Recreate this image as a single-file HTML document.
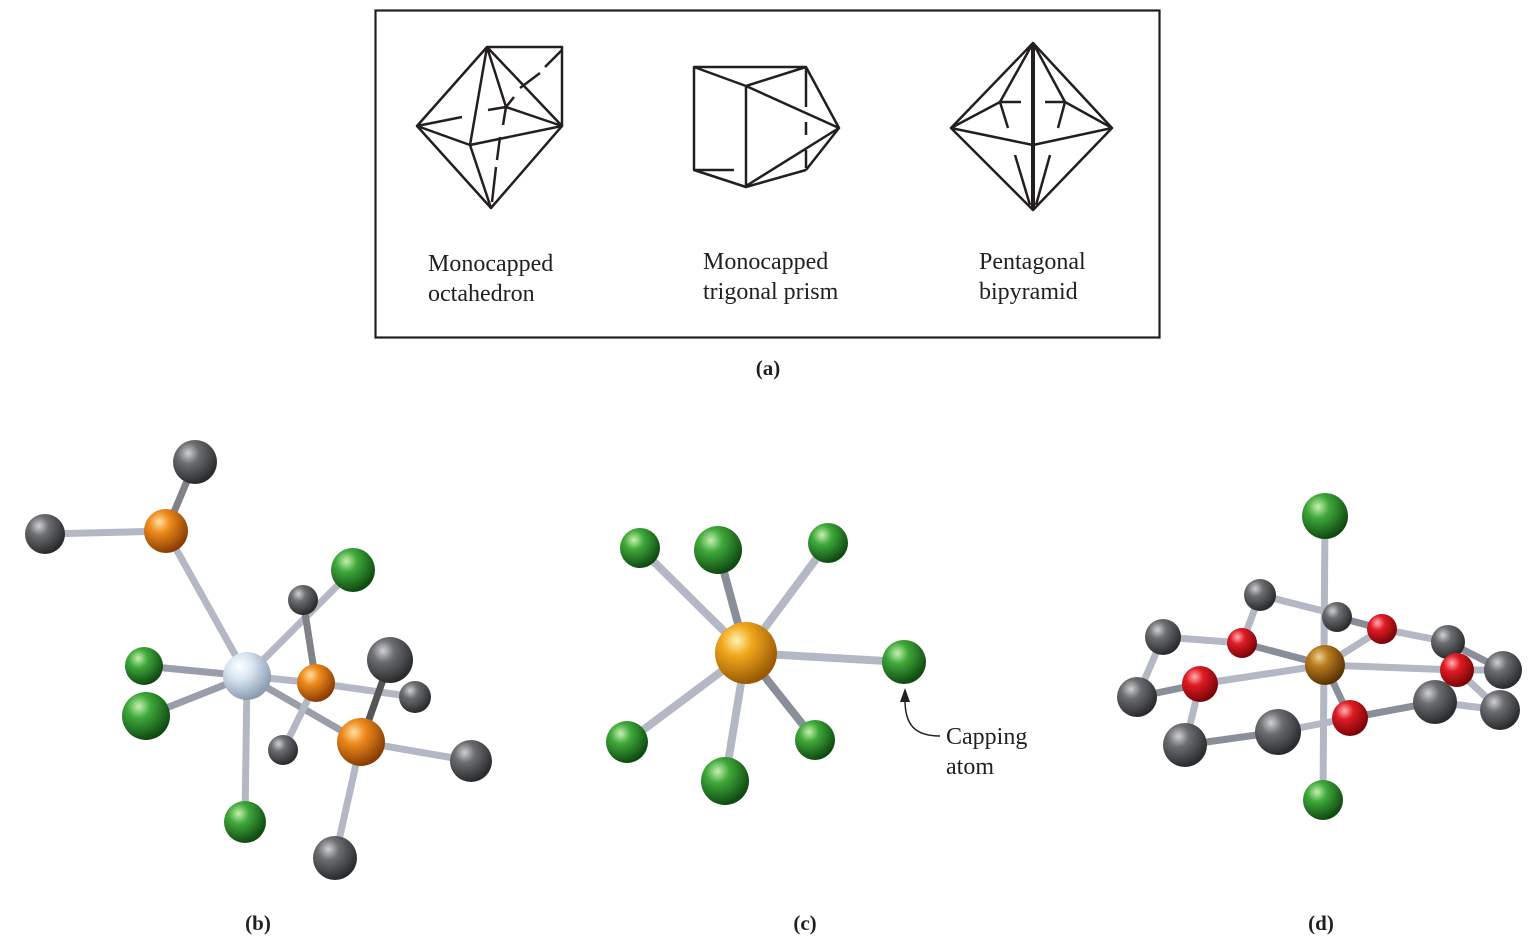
<!DOCTYPE html>
<html><head><meta charset="utf-8"><style>
html,body{margin:0;padding:0;background:#fff;}
svg{display:block;}
text{font-family:"Liberation Serif",serif;fill:#231f20;}
</style></head><body>
<svg width="1531" height="940" viewBox="0 0 1531 940" xmlns="http://www.w3.org/2000/svg">
<defs>
<radialGradient id="gG" cx="35%" cy="30%" r="70%"><stop offset="0" stop-color="#c8f0b0"/><stop offset="0.35" stop-color="#3fa93a"/><stop offset="1" stop-color="#0f4a12"/></radialGradient>
<radialGradient id="gK" cx="35%" cy="30%" r="70%"><stop offset="0" stop-color="#d0d0d0"/><stop offset="0.35" stop-color="#6b6d70"/><stop offset="1" stop-color="#2a2b2d"/></radialGradient>
<radialGradient id="gO" cx="35%" cy="30%" r="70%"><stop offset="0" stop-color="#ffe0a0"/><stop offset="0.35" stop-color="#ee8a1a"/><stop offset="1" stop-color="#8a3e05"/></radialGradient>
<radialGradient id="gY" cx="35%" cy="30%" r="70%"><stop offset="0" stop-color="#fff2b0"/><stop offset="0.35" stop-color="#f2a81c"/><stop offset="1" stop-color="#9a5a04"/></radialGradient>
<radialGradient id="gB" cx="35%" cy="30%" r="70%"><stop offset="0" stop-color="#ffffff"/><stop offset="0.4" stop-color="#d6e4f2"/><stop offset="1" stop-color="#8a9cb0"/></radialGradient>
<radialGradient id="gR" cx="35%" cy="30%" r="70%"><stop offset="0" stop-color="#ffb0b0"/><stop offset="0.35" stop-color="#e01b24"/><stop offset="1" stop-color="#7a0508"/></radialGradient>
<radialGradient id="gN" cx="35%" cy="30%" r="70%"><stop offset="0" stop-color="#f0d090"/><stop offset="0.35" stop-color="#b87a1e"/><stop offset="1" stop-color="#5a3406"/></radialGradient>
</defs>

<rect x="375.5" y="10.5" width="784" height="327" fill="none" stroke="#231f20" stroke-width="2.2"/>
<g stroke="#231f20" stroke-width="2.5" fill="none" stroke-linejoin="round">
<!-- monocapped octahedron -->
<path d="M487,47 L562,47 L562,126 L491,208 L417,126 Z"/>
<path d="M487,47 L470,145 L491,208 M417,126 L470,145 L562,126 M487,47 L562,126 M487,47 L506,107 L562,126"/>
<path d="M417,126 L462,117 M488,110 L506,107 L503,125 M500,137 L497,160 M496,167 L492,202 M506,107 L514,97 M520,88 L540,73 M545,67 L562,50"/>
<!-- trigonal prism -->
<path d="M694,67 L806,67 L746,86 Z M694,67 L694,170 L746,187 L806,170 M746,86 L746,187 M806,67 L839,128 L746,186 M746,86 L839,128 L806,170"/>
<path d="M694,170 L734,170 M806,67 L806,107 M806,122 L806,135 M806,150 L806,168"/>
<!-- pentagonal bipyramid -->
<path d="M1033,43 L1112,128 L1033,210 L951,128 Z M951,128 L1033,145 L1112,128 M1033,43 L1000,102 L951,128 M1033,43 L1065,102 L1112,128"/>
<path d="M1000,102 L1021,102 M1045,102 L1065,102 M1000,102 L1008,128 M1065,102 L1058,128 M1015,155 L1030,205 M1050,155 L1036,205"/>
<path d="M1033,43 L1033,210" stroke-width="4"/>
</g>
<text x="428" y="271" font-size="24">Monocapped</text>
<text x="428" y="301" font-size="24">octahedron</text>
<text x="703" y="269" font-size="24">Monocapped</text>
<text x="703" y="299" font-size="24">trigonal prism</text>
<text x="979" y="269" font-size="24">Pentagonal</text>
<text x="979" y="299" font-size="24">bipyramid</text>
<text x="768" y="375" font-size="21" font-weight="bold" text-anchor="middle">(a)</text>
<text x="258" y="930" font-size="21" font-weight="bold" text-anchor="middle">(b)</text>
<text x="805" y="930" font-size="21" font-weight="bold" text-anchor="middle">(c)</text>
<text x="1321" y="930" font-size="21" font-weight="bold" text-anchor="middle">(d)</text>
<text x="946" y="744" font-size="24">Capping</text>
<text x="946" y="774" font-size="24">atom</text>
<path d="M940,736 C915,736 905,725 905,700" fill="none" stroke="#231f20" stroke-width="1.5"/>
<path d="M905,688 L900,702 L910,702 Z" fill="#231f20"/>

<!-- (b) -->
<g stroke="#b4b8c4" stroke-width="7" stroke-linecap="round">
<line x1="247" y1="676" x2="166" y2="531"/>
<line x1="166" y1="531" x2="45" y2="534"/>
<line x1="166" y1="531" x2="195" y2="462" stroke="#808288"/>
<line x1="247" y1="676" x2="353" y2="570"/>
<line x1="247" y1="676" x2="144" y2="666" stroke="#9a9eaa"/>
<line x1="247" y1="676" x2="146" y2="716" stroke="#9a9eaa"/>
<line x1="247" y1="676" x2="245" y2="822"/>
<line x1="247" y1="676" x2="316" y2="683"/>
<line x1="247" y1="676" x2="361" y2="742" stroke="#9a9eaa"/>
<line x1="303" y1="600" x2="316" y2="683" stroke="#808288"/>
<line x1="316" y1="683" x2="415" y2="697"/>
<line x1="316" y1="683" x2="283" y2="750"/>
<line x1="361" y1="742" x2="390" y2="660" stroke="#555"/>
<line x1="361" y1="742" x2="471" y2="761"/>
<line x1="361" y1="742" x2="335" y2="858"/>
</g>
<circle cx="195" cy="462" r="22" fill="url(#gK)"/>
<circle cx="45" cy="534" r="20" fill="url(#gK)"/>
<circle cx="166" cy="531" r="22" fill="url(#gO)"/>
<circle cx="353" cy="570" r="22" fill="url(#gG)"/>
<circle cx="303" cy="600" r="15" fill="url(#gK)"/>
<circle cx="144" cy="666" r="19" fill="url(#gG)"/>
<circle cx="146" cy="716" r="24" fill="url(#gG)"/>
<circle cx="247" cy="676" r="24" fill="url(#gB)"/>
<circle cx="316" cy="683" r="19" fill="url(#gO)"/>
<circle cx="415" cy="697" r="16" fill="url(#gK)"/>
<circle cx="283" cy="750" r="15" fill="url(#gK)"/>
<circle cx="390" cy="660" r="23" fill="url(#gK)"/>
<circle cx="361" cy="742" r="24" fill="url(#gO)"/>
<circle cx="471" cy="761" r="21" fill="url(#gK)"/>
<circle cx="245" cy="822" r="21" fill="url(#gG)"/>
<circle cx="335" cy="858" r="22" fill="url(#gK)"/>

<!-- (c) -->
<g stroke="#b4b8c4" stroke-width="8" stroke-linecap="round">
<line x1="746" y1="653" x2="640" y2="548"/>
<line x1="746" y1="653" x2="718" y2="550" stroke="#8a8e98"/>
<line x1="746" y1="653" x2="828" y2="543"/>
<line x1="746" y1="653" x2="904" y2="662"/>
<line x1="746" y1="653" x2="627" y2="742"/>
<line x1="746" y1="653" x2="815" y2="740" stroke="#8a8e98"/>
<line x1="746" y1="653" x2="725" y2="781"/>
</g>
<circle cx="640" cy="548" r="20" fill="url(#gG)"/>
<circle cx="718" cy="550" r="24" fill="url(#gG)"/>
<circle cx="828" cy="543" r="20" fill="url(#gG)"/>
<circle cx="746" cy="653" r="31" fill="url(#gY)"/>
<circle cx="904" cy="662" r="22" fill="url(#gG)"/>
<circle cx="627" cy="742" r="21" fill="url(#gG)"/>
<circle cx="815" cy="740" r="20" fill="url(#gG)"/>
<circle cx="725" cy="781" r="24" fill="url(#gG)"/>

<!-- (d) -->
<g stroke="#b4b8c4" stroke-width="7" stroke-linecap="round">
<line x1="1260" y1="595" x2="1335" y2="614"/>
<line x1="1325" y1="516" x2="1323" y2="800"/>
<line x1="1260" y1="595" x2="1242" y2="643"/>
<line x1="1337" y1="617" x2="1382" y2="629" stroke="#8a8e98"/>
<line x1="1382" y1="629" x2="1448" y2="642"/>
<line x1="1448" y1="642" x2="1503" y2="670" stroke="#8a8e98"/>
<line x1="1457" y1="670" x2="1503" y2="670"/>
<line x1="1457" y1="670" x2="1500" y2="710"/>
<line x1="1435" y1="702" x2="1500" y2="710"/>
<line x1="1350" y1="718" x2="1435" y2="702" stroke="#8a8e98"/>
<line x1="1350" y1="718" x2="1278" y2="732"/>
<line x1="1278" y1="732" x2="1185" y2="745" stroke="#8a8e98"/>
<line x1="1185" y1="745" x2="1200" y2="684"/>
<line x1="1200" y1="684" x2="1137" y2="697" stroke="#8a8e98"/>
<line x1="1137" y1="697" x2="1163" y2="637"/>
<line x1="1163" y1="637" x2="1242" y2="643"/>
<line x1="1325" y1="665" x2="1242" y2="643" stroke="#8a8e98"/>
<line x1="1325" y1="665" x2="1382" y2="629"/>
<line x1="1325" y1="665" x2="1200" y2="684"/>
<line x1="1325" y1="665" x2="1457" y2="670"/>
<line x1="1325" y1="665" x2="1350" y2="718" stroke="#8a8e98"/>
</g>
<circle cx="1325" cy="516" r="23" fill="url(#gG)"/>
<circle cx="1260" cy="595" r="16" fill="url(#gK)"/>
<circle cx="1337" cy="617" r="15" fill="url(#gK)"/>
<circle cx="1163" cy="637" r="18" fill="url(#gK)"/>
<circle cx="1448" cy="642" r="17" fill="url(#gK)"/>
<circle cx="1242" cy="643" r="15" fill="url(#gR)"/>
<circle cx="1382" cy="629" r="15" fill="url(#gR)"/>
<circle cx="1325" cy="665" r="20" fill="url(#gN)"/>
<circle cx="1503" cy="670" r="19" fill="url(#gK)"/>
<circle cx="1137" cy="697" r="20" fill="url(#gK)"/>
<circle cx="1200" cy="684" r="18" fill="url(#gR)"/>
<circle cx="1457" cy="670" r="17" fill="url(#gR)"/>
<circle cx="1435" cy="702" r="22" fill="url(#gK)"/>
<circle cx="1500" cy="710" r="20" fill="url(#gK)"/>
<circle cx="1350" cy="718" r="18" fill="url(#gR)"/>
<circle cx="1278" cy="732" r="23" fill="url(#gK)"/>
<circle cx="1185" cy="745" r="22" fill="url(#gK)"/>
<circle cx="1323" cy="800" r="20" fill="url(#gG)"/>
</svg>
</body></html>
